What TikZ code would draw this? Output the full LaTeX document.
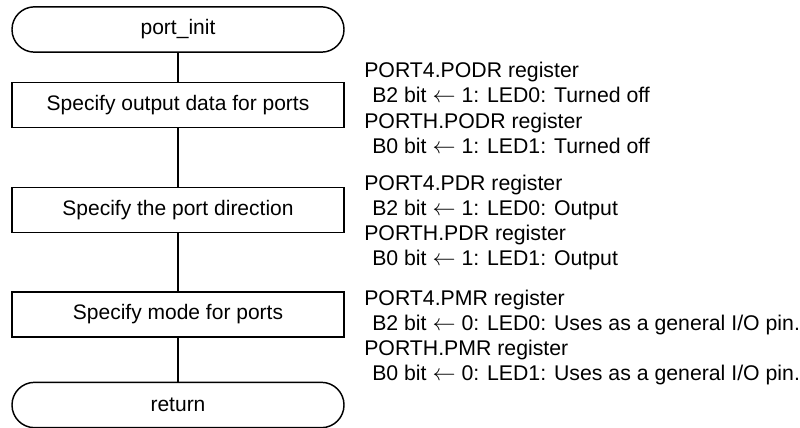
\documentclass[tikz,border=0pt]{standalone}
\usepackage{fontspec}
\setmainfont{Liberation Sans}
\begin{document}
\begin{tikzpicture}[x=0.75pt,y=-0.75pt,
  every node/.style={font=\fontsize{15.75pt}{18.9pt}\selectfont},
  procbox/.style={draw,line width=1.1pt,minimum width=249pt,minimum height=34pt,inner sep=0pt},
  termbox/.style={procbox,rounded corners=16.9pt},
  note/.style={anchor=base west,inner sep=0pt,font=\fontsize{15.95pt}{19pt}\selectfont},
  flow/.style={line width=1.1pt}]
\useasboundingbox (0,0) rectangle (800,428);
\node[termbox] (start) at (178,29.5) {port\_init};
\node[procbox] (b1) at (178,105) {Specify output data for ports};
\node[procbox] (b2) at (178,210) {Specify the port direction};
\node[procbox] (b3) at (178,314.5) {Specify mode for ports};
\node[termbox] (ret) at (178,405) {return};
\draw[flow] (start) -- (b1);
\draw[flow] (b1) -- (b2);
\draw[flow] (b2) -- (b3);
\draw[flow] (b3) -- (ret);
\node[note] (n11) at (364,78) {PORT4.PODR register};
\node[note] (n12) at (372,103) {B2 bit $\leftarrow$ 1: LED0: Turned off};
\node[note] (n13) at (364,128) {PORTH.PODR register};
\node[note] (n14) at (372,153) {B0 bit $\leftarrow$ 1: LED1: Turned off};
\node[note] (n21) at (364,190) {PORT4.PDR register};
\node[note] (n22) at (372,215) {B2 bit $\leftarrow$ 1: LED0: Output};
\node[note] (n23) at (364,240) {PORTH.PDR register};
\node[note] (n24) at (372,265) {B0 bit $\leftarrow$ 1: LED1: Output};
\node[note] (n31) at (364,305) {PORT4.PMR register};
\node[note] (n32) at (372,330) {B2 bit $\leftarrow$ 0: LED0: Uses as a general I/O pin.};
\node[note] (n33) at (364,355) {PORTH.PMR register};
\node[note] (n34) at (372,380) {B0 bit $\leftarrow$ 0: LED1: Uses as a general I/O pin.};
\end{tikzpicture}
\end{document}
